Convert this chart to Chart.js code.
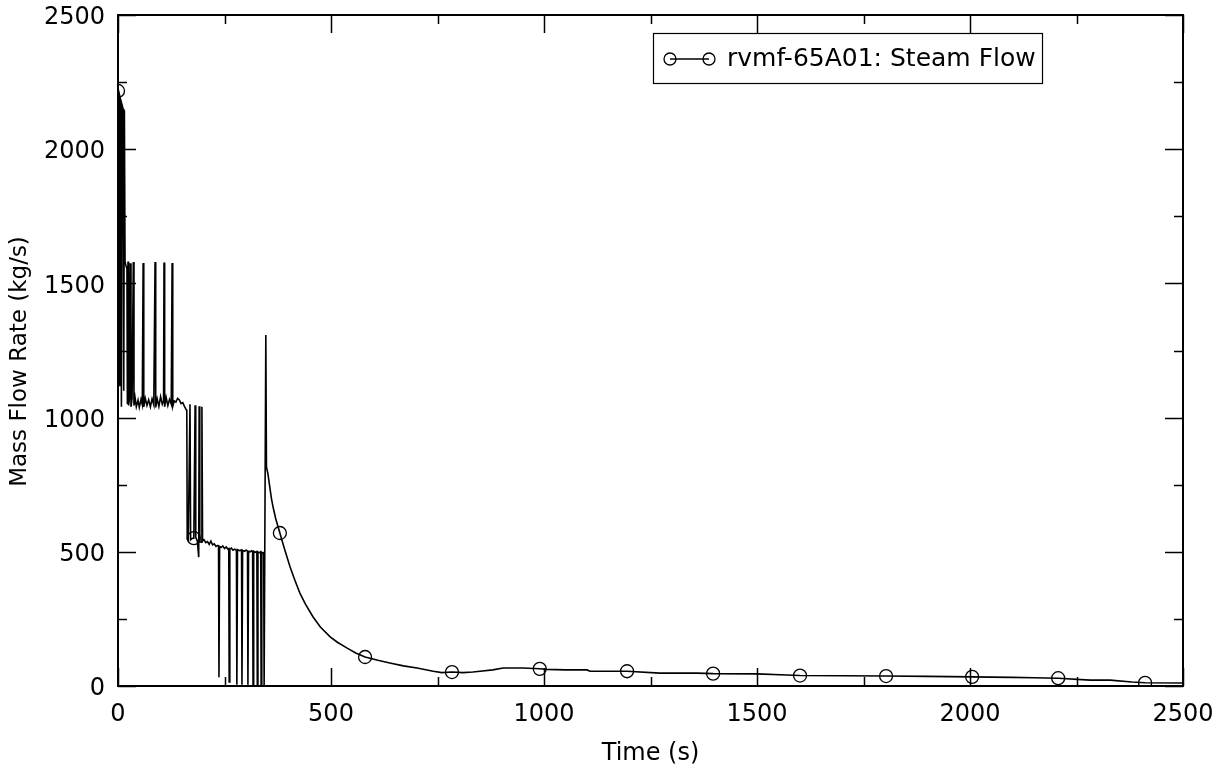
<!DOCTYPE html>
<html>
<head>
<meta charset="utf-8">
<script src="https://cdn.jsdelivr.net/npm/chart.js@4/dist/chart.umd.min.js"></script>
<style>
  html, body { margin: 0; padding: 0; background: #fff; }
  #wrap { width: 1225px; height: 773px; }
</style>
</head>
<body>
<div id="wrap"><canvas id="c" width="1225" height="773"></canvas></div>
<script>
// Steam flow through rvmf-65A01, time in seconds, flow in kg/s
const timeS = [
  0, 1.5, 3, 4.5, 6.5, 8, 9.5, 12, 13.5, 15, 16.5, 19, 21, 22, 23.5, 25, 27, 29, 30.5, 33,
  36, 37.5, 40, 43, 47, 50, 54, 57, 59, 60.5, 64, 68, 72, 76, 80, 84, 87, 88.5, 92, 96,
  100, 104, 107, 108, 109.5, 113, 117, 121, 125, 127, 128.5, 132, 136, 140, 144, 148, 152, 156, 160, 161.5,
  162.5, 165, 169, 170.5, 174, 178, 181, 182.5, 186, 189.5, 190.5, 192, 195.5, 197, 198.5, 202, 206, 210, 214, 218,
  222, 226, 230, 234, 236, 237, 238.5, 242, 246, 250, 254, 258, 260, 261, 262.5, 266, 270, 274, 278, 279,
  280.5, 285, 290, 291, 292.5, 297, 301, 304, 305, 306.5, 310, 314, 316, 317, 318.5, 322, 326, 327, 328.5, 332,
  335, 336, 337.5, 340, 342, 343, 347, 348.5, 352, 356, 360, 364, 370, 375, 380, 390, 404, 415, 427, 440,
  458, 475, 498, 515, 537, 558, 580, 610, 638, 670, 702, 740, 760, 784, 810, 833, 850, 880, 904, 950,
  990, 1007, 1050, 1101, 1108, 1150, 1195, 1272, 1359, 1397, 1500, 1570, 1601, 1700, 1803, 1900, 2005, 2050, 2100, 2150,
  2207, 2282, 2329, 2380, 2411, 2500
];
const flowKgS = [
  2217, 2205, 1120, 2195, 2180, 1040, 2165, 2150, 1100, 2145, 1580, 1565, 1555, 1050, 1582, 1045, 1075, 1575, 1040, 1070,
  1580, 1045, 1075, 1040, 1065, 1038, 1068, 1048, 1576, 1040, 1072, 1045, 1066, 1040, 1070, 1048, 1580, 1038, 1070, 1042,
  1078, 1050, 1062, 1578, 1040, 1075, 1045, 1068, 1050, 1576, 1042, 1062, 1058, 1072, 1066, 1052, 1056, 1042, 1030, 1025,
  548, 542, 1050, 545, 550, 551, 1046, 553, 542, 480, 1042, 538, 536, 1040, 540, 545, 534, 538, 528, 540,
  526, 530, 520, 524, 522, 33, 520, 516, 522, 512, 518, 510, 512, 15, 510, 514, 506, 510, 505, 5,
  508, 504, 507, 5, 505, 502, 506, 503, 5, 502, 500, 504, 500, 5, 502, 498, 501, 5, 499, 497,
  500, 5, 498, 496, 497, 0, 1308, 816, 790, 745, 700, 667, 625, 597, 570, 515, 443, 395, 346, 305,
  257, 220, 183, 163, 142, 123, 108, 96, 86, 75, 67, 55, 50, 52, 50, 52, 55, 60, 67, 67,
  64, 62, 60, 60, 55, 55, 55, 48, 48, 46, 45, 41, 39, 38, 37, 36, 34, 33, 32, 31,
  29, 22, 22, 15, 12, 11
];
// Times at which the series carries a circle marker
const markerTimes = [0, 178, 380, 580, 784, 990, 1195, 1397, 1601, 1803, 2005, 2207, 2411];

const xTicks = [0, 500, 1000, 1500, 2000, 2500];
const yTicks = [0, 500, 1000, 1500, 2000, 2500];
const seriesName = 'rvmf-65A01: Steam Flow';
const yTitle = 'Mass Flow Rate (kg/s)';

const FONT = 'DejaVu Sans';
const points = timeS.map((t, i) => ({ x: t, y: flowKgS[i] }));

// Frame, inward major/minor ticks on all four sides, y-axis title and the boxed legend
const framePlugin = {
  id: 'frame',
  afterDatasetsDraw(chart) {
    const { ctx, chartArea: a, scales: { x, y } } = chart;
    ctx.save();
    ctx.strokeStyle = '#000';
    ctx.lineWidth = 1.5;
    ctx.beginPath();
    for (let v = 0; v <= 2500; v += 250) {
      const len = v % 500 === 0 ? 18 : 9;
      const px = Math.round(x.getPixelForValue(v)) + 0.5;
      ctx.moveTo(px, a.bottom); ctx.lineTo(px, a.bottom - len);
      ctx.moveTo(px, a.top); ctx.lineTo(px, a.top + len);
      const py = Math.round(y.getPixelForValue(v)) + 0.5;
      ctx.moveTo(a.left, py); ctx.lineTo(a.left + len, py);
      ctx.moveTo(a.right, py); ctx.lineTo(a.right - len, py);
    }
    ctx.stroke();
    ctx.lineWidth = 2;
    ctx.strokeRect(a.left, a.top, a.right - a.left, a.bottom - a.top);

    // y-axis title, rotated
    ctx.save();
    ctx.translate(20, (a.top + a.bottom) / 2 + 11);
    ctx.rotate(-Math.PI / 2);
    ctx.fillStyle = '#000';
    ctx.font = '23px "' + FONT + '"';
    ctx.textAlign = 'center';
    ctx.textBaseline = 'middle';
    ctx.fillText(yTitle, 0, 0);
    ctx.restore();

    // legend
    const bx = 653, by = 33, bw = 389, bh = 50;
    ctx.fillStyle = '#fff';
    ctx.fillRect(bx, by, bw, bh);
    ctx.lineWidth = 1.2;
    ctx.strokeRect(bx + 0.5, by + 0.5, bw, bh);
    const cy = by + 26;
    ctx.lineWidth = 1.3;
    ctx.beginPath();
    ctx.moveTo(670, cy); ctx.lineTo(709, cy);
    ctx.stroke();
    [670, 709].forEach(cx => {
      ctx.beginPath();
      ctx.arc(cx, cy, 6, 0, Math.PI * 2);
      ctx.stroke();
    });
    ctx.fillStyle = '#000';
    ctx.font = '25px "' + FONT + '"';
    ctx.textBaseline = 'middle';
    ctx.textAlign = 'left';
    ctx.fillText(seriesName, 727, cy);
    ctx.restore();
  }
};

new Chart(document.getElementById('c'), {
  type: 'line',
  data: {
    datasets: [{
      label: seriesName,
      data: points,
      borderColor: '#000',
      borderWidth: 1.6,
      tension: 0,
      fill: false,
      pointRadius: ctx => markerTimes.includes(timeS[ctx.dataIndex]) ? 6.5 : 0,
      pointHoverRadius: 0,
      pointBorderColor: '#000',
      pointBackgroundColor: 'rgba(0,0,0,0)',
      pointBorderWidth: 1.3
    }]
  },
  options: {
    responsive: false,
    animation: false,
    devicePixelRatio: 1,
    layout: { padding: { top: 15, right: 42, left: 0, bottom: 0 } },
    plugins: { legend: { display: false }, tooltip: { enabled: false } },
    scales: {
      x: {
        type: 'linear',
        min: 0, max: 2500,
        afterBuildTicks: s => { s.ticks = xTicks.map(v => ({ value: v })); },
        afterFit: s => { s.height = 87; s.paddingLeft = 0; s.paddingRight = 0; },
        grid: { display: false, drawTicks: false },
        border: { display: false },
        ticks: {
          padding: 14,
          color: '#000',
          font: { family: FONT, size: 24 },
          maxRotation: 0,
          callback: v => String(v)
        },
        title: {
          display: true,
          text: 'Time (s)',
          color: '#000',
          font: { family: FONT, size: 24 },
          padding: { top: 0, bottom: 5 }
        }
      },
      y: {
        type: 'linear',
        min: 0, max: 2500,
        afterBuildTicks: s => { s.ticks = yTicks.map(v => ({ value: v })); },
        afterFit: s => { s.width = 118; s.paddingTop = 0; s.paddingBottom = 0; },
        grid: { display: false, drawTicks: false },
        border: { display: false },
        ticks: {
          padding: 13,
          labelOffset: 3,
          color: '#000',
          font: { family: FONT, size: 24 },
          callback: v => String(v)
        },
        title: { display: false }
      }
    }
  },
  plugins: [framePlugin]
});
</script>
</body>
</html>
